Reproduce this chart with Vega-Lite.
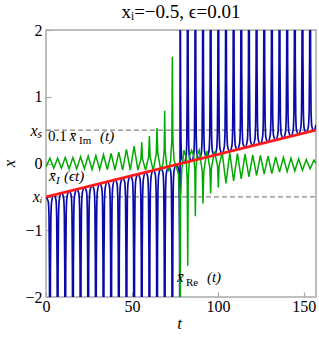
{
"$schema":"https://vega.github.io/schema/vega-lite/v6.json",
"width":270,"height":267,
"autosize":{"type":"none"},
"padding":{"left":46,"top":30,"right":3,"bottom":46},
"title":{"text":"xᵢ=−0.5, ϵ=0.01","font":"Liberation Serif, Times New Roman, serif","fontSize":19,"fontWeight":"normal","color":"black","offset":2,"dy":17,"baseline":"alphabetic"},
"config":{"view":{"stroke":"#aaaaaa","strokeWidth":1.5},
"axis":{"grid":false,"domain":false,"tickColor":"#aaaaaa","tickWidth":1.2,"tickSize":-5,"labelFont":"Liberation Serif, Times New Roman, serif","labelFontSize":16,"labelColor":"black","labelOverlap":false,"titleFont":"Liberation Serif, Times New Roman, serif","titleFontStyle":"italic","titleFontWeight":"normal","titleFontSize":17,"titleColor":"black"}},
"datasets":{
"dash":[{"t":0,"y":0.5,"g":"s"},{"t":157.08,"y":0.5,"g":"s"},{"t":0,"y":-0.5,"g":"i"},{"t":157.08,"y":-0.5,"g":"i"}],
"red":[{"t":0,"y":-0.5},{"t":157.08,"y":0.5}],
"blue":[
{"t":0,"y":-0.5},
{"t":1.32,"y":-0.57},{"t":1.77,"y":-0.82},{"t":2.03,"y":-1.64},{"t":2.3,"y":-5},{"t":2.57,"y":-1.64},{"t":2.83,"y":-0.82},{"t":3.28,"y":-0.57},
{"t":4.53,"y":-0.47},
{"t":5.77,"y":-0.54},{"t":6.22,"y":-0.79},{"t":6.48,"y":-1.61},{"t":6.75,"y":-5},{"t":7.02,"y":-1.61},{"t":7.28,"y":-0.79},{"t":7.73,"y":-0.54},
{"t":8.98,"y":-0.44},
{"t":10.22,"y":-0.51},{"t":10.67,"y":-0.76},{"t":10.93,"y":-1.58},{"t":11.2,"y":-5},{"t":11.47,"y":-1.58},{"t":11.73,"y":-0.76},{"t":12.18,"y":-0.51},
{"t":13.43,"y":-0.41},
{"t":14.67,"y":-0.48},{"t":15.12,"y":-0.73},{"t":15.38,"y":-1.55},{"t":15.65,"y":-5},{"t":15.92,"y":-1.55},{"t":16.18,"y":-0.73},{"t":16.63,"y":-0.48},
{"t":17.88,"y":-0.39},
{"t":19.12,"y":-0.45},{"t":19.57,"y":-0.70},{"t":19.83,"y":-1.52},{"t":20.1,"y":-5},{"t":20.37,"y":-1.52},{"t":20.63,"y":-0.70},{"t":21.08,"y":-0.45},
{"t":22.33,"y":-0.36},
{"t":23.57,"y":-0.42},{"t":24.02,"y":-0.67},{"t":24.28,"y":-1.49},{"t":24.55,"y":-5},{"t":24.82,"y":-1.49},{"t":25.08,"y":-0.67},{"t":25.53,"y":-0.42},
{"t":26.78,"y":-0.33},
{"t":28.02,"y":-0.40},{"t":28.47,"y":-0.65},{"t":28.73,"y":-1.47},{"t":29.0,"y":-5},{"t":29.27,"y":-1.47},{"t":29.53,"y":-0.65},{"t":29.98,"y":-0.40},
{"t":31.23,"y":-0.30},
{"t":32.47,"y":-0.37},{"t":32.92,"y":-0.62},{"t":33.18,"y":-1.44},{"t":33.45,"y":-5},{"t":33.72,"y":-1.44},{"t":33.98,"y":-0.62},{"t":34.43,"y":-0.37},
{"t":35.68,"y":-0.27},
{"t":36.92,"y":-0.34},{"t":37.37,"y":-0.59},{"t":37.63,"y":-1.41},{"t":37.9,"y":-5},{"t":38.17,"y":-1.41},{"t":38.43,"y":-0.59},{"t":38.88,"y":-0.34},
{"t":40.13,"y":-0.24},
{"t":41.37,"y":-0.31},{"t":41.82,"y":-0.56},{"t":42.08,"y":-1.38},{"t":42.35,"y":-5},{"t":42.62,"y":-1.38},{"t":42.88,"y":-0.56},{"t":43.33,"y":-0.31},
{"t":44.58,"y":-0.22},
{"t":45.82,"y":-0.28},{"t":46.27,"y":-0.53},{"t":46.53,"y":-1.35},{"t":46.8,"y":-5},{"t":47.07,"y":-1.35},{"t":47.33,"y":-0.53},{"t":47.78,"y":-0.28},
{"t":49.03,"y":-0.19},
{"t":50.27,"y":-0.25},{"t":50.72,"y":-0.50},{"t":50.98,"y":-1.32},{"t":51.25,"y":-5},{"t":51.52,"y":-1.32},{"t":51.78,"y":-0.50},{"t":52.23,"y":-0.25},
{"t":53.48,"y":-0.16},
{"t":54.72,"y":-0.23},{"t":55.17,"y":-0.48},{"t":55.43,"y":-1.30},{"t":55.7,"y":-5},{"t":55.97,"y":-1.30},{"t":56.23,"y":-0.48},{"t":56.68,"y":-0.23},
{"t":57.93,"y":-0.13},
{"t":59.17,"y":-0.20},{"t":59.62,"y":-0.45},{"t":59.88,"y":-1.27},{"t":60.15,"y":-5},{"t":60.42,"y":-1.27},{"t":60.68,"y":-0.45},{"t":61.13,"y":-0.20},
{"t":62.38,"y":-0.10},
{"t":63.62,"y":-0.17},{"t":64.07,"y":-0.42},{"t":64.33,"y":-1.24},{"t":64.6,"y":-5},{"t":64.87,"y":-1.24},{"t":65.13,"y":-0.42},{"t":65.58,"y":-0.17},
{"t":66.83,"y":-0.07},
{"t":68.07,"y":-0.14},{"t":68.52,"y":-0.39},{"t":68.78,"y":-1.21},{"t":69.05,"y":-5},{"t":69.32,"y":-1.21},{"t":69.58,"y":-0.39},{"t":70.03,"y":-0.14},
{"t":71.28,"y":-0.05},
{"t":72.52,"y":-0.11},{"t":72.97,"y":-0.36},{"t":73.23,"y":-1.18},{"t":73.5,"y":-5},{"t":73.77,"y":-1.18},{"t":74.03,"y":-0.36},{"t":74.48,"y":-0.11},
{"t":75.75,"y":-0.02},
{"t":77.02,"y":-0.08},{"t":77.47,"y":-0.33},{"t":77.73,"y":-1.15},{"t":77.99,"y":-5},{"t":78.01,"y":5},{"t":78.27,"y":1.15},{"t":78.53,"y":0.33},{"t":78.98,"y":0.08},
{"t":80.23,"y":0.01},
{"t":81.47,"y":0.10},{"t":81.92,"y":0.35},{"t":82.18,"y":1.17},{"t":82.45,"y":5},{"t":82.72,"y":1.17},{"t":82.98,"y":0.35},{"t":83.43,"y":0.10},
{"t":84.68,"y":0.04},
{"t":85.92,"y":0.13},{"t":86.37,"y":0.38},{"t":86.63,"y":1.20},{"t":86.9,"y":5},{"t":87.17,"y":1.20},{"t":87.43,"y":0.38},{"t":87.88,"y":0.13},
{"t":89.13,"y":0.07},
{"t":90.37,"y":0.16},{"t":90.82,"y":0.41},{"t":91.08,"y":1.23},{"t":91.35,"y":5},{"t":91.62,"y":1.23},{"t":91.88,"y":0.41},{"t":92.33,"y":0.16},
{"t":93.58,"y":0.10},
{"t":94.82,"y":0.19},{"t":95.27,"y":0.44},{"t":95.53,"y":1.26},{"t":95.8,"y":5},{"t":96.07,"y":1.26},{"t":96.33,"y":0.44},{"t":96.78,"y":0.19},
{"t":98.03,"y":0.12},
{"t":99.27,"y":0.22},{"t":99.72,"y":0.47},{"t":99.98,"y":1.29},{"t":100.25,"y":5},{"t":100.52,"y":1.29},{"t":100.78,"y":0.47},{"t":101.23,"y":0.22},
{"t":102.48,"y":0.15},
{"t":103.72,"y":0.25},{"t":104.17,"y":0.50},{"t":104.43,"y":1.32},{"t":104.7,"y":5},{"t":104.97,"y":1.32},{"t":105.23,"y":0.50},{"t":105.68,"y":0.25},
{"t":106.93,"y":0.18},
{"t":108.17,"y":0.27},{"t":108.62,"y":0.52},{"t":108.88,"y":1.34},{"t":109.15,"y":5},{"t":109.42,"y":1.34},{"t":109.68,"y":0.52},{"t":110.13,"y":0.27},
{"t":111.38,"y":0.21},
{"t":112.62,"y":0.30},{"t":113.07,"y":0.55},{"t":113.33,"y":1.37},{"t":113.6,"y":5},{"t":113.87,"y":1.37},{"t":114.13,"y":0.55},{"t":114.58,"y":0.30},
{"t":115.83,"y":0.24},
{"t":117.07,"y":0.33},{"t":117.52,"y":0.58},{"t":117.78,"y":1.40},{"t":118.05,"y":5},{"t":118.32,"y":1.40},{"t":118.58,"y":0.58},{"t":119.03,"y":0.33},
{"t":120.28,"y":0.27},
{"t":121.52,"y":0.36},{"t":121.97,"y":0.61},{"t":122.23,"y":1.43},{"t":122.5,"y":5},{"t":122.77,"y":1.43},{"t":123.03,"y":0.61},{"t":123.48,"y":0.36},
{"t":124.73,"y":0.29},
{"t":125.97,"y":0.39},{"t":126.42,"y":0.64},{"t":126.68,"y":1.46},{"t":126.95,"y":5},{"t":127.22,"y":1.46},{"t":127.48,"y":0.64},{"t":127.93,"y":0.39},
{"t":129.18,"y":0.32},
{"t":130.42,"y":0.42},{"t":130.87,"y":0.67},{"t":131.13,"y":1.49},{"t":131.4,"y":5},{"t":131.67,"y":1.49},{"t":131.93,"y":0.67},{"t":132.38,"y":0.42},
{"t":133.63,"y":0.35},
{"t":134.87,"y":0.44},{"t":135.32,"y":0.69},{"t":135.58,"y":1.51},{"t":135.85,"y":5},{"t":136.12,"y":1.51},{"t":136.38,"y":0.69},{"t":136.83,"y":0.44},
{"t":138.08,"y":0.38},
{"t":139.32,"y":0.47},{"t":139.77,"y":0.72},{"t":140.03,"y":1.54},{"t":140.3,"y":5},{"t":140.57,"y":1.54},{"t":140.83,"y":0.72},{"t":141.28,"y":0.47},
{"t":142.53,"y":0.41},
{"t":143.77,"y":0.50},{"t":144.22,"y":0.75},{"t":144.48,"y":1.57},{"t":144.75,"y":5},{"t":145.02,"y":1.57},{"t":145.28,"y":0.75},{"t":145.73,"y":0.50},
{"t":146.98,"y":0.44},
{"t":148.22,"y":0.53},{"t":148.67,"y":0.78},{"t":148.93,"y":1.60},{"t":149.2,"y":5},{"t":149.47,"y":1.60},{"t":149.73,"y":0.78},{"t":150.18,"y":0.53},
{"t":151.43,"y":0.46},
{"t":152.67,"y":0.56},{"t":153.12,"y":0.81},{"t":153.38,"y":1.63},{"t":153.65,"y":5},{"t":153.92,"y":1.63},{"t":154.18,"y":0.81},{"t":154.63,"y":0.56},
{"t":155.88,"y":0.49},
{"t":157.08,"y":0.58}
],
"green":[
{"t":0,"y":-0.05},{"t":2.3,"y":0.08},{"t":4.53,"y":-0.07},{"t":6.75,"y":0.08},{"t":8.98,"y":-0.07},{"t":11.2,"y":0.09},{"t":13.43,"y":-0.08},{"t":15.65,"y":0.09},{"t":17.88,"y":-0.08},{"t":20.1,"y":0.10},{"t":22.33,"y":-0.08},{"t":24.55,"y":0.11},{"t":26.78,"y":-0.09},{"t":29.0,"y":0.12},{"t":31.23,"y":-0.09},{"t":33.45,"y":0.13},{"t":35.68,"y":-0.09},{"t":37.9,"y":0.15},{"t":40.13,"y":-0.1},{"t":42.35,"y":0.17},{"t":44.58,"y":-0.1},{"t":46.8,"y":0.21},{"t":49.03,"y":-0.1},{"t":51.25,"y":0.26},{"t":53.48,"y":-0.1},
{"t":55.25,"y":0.07},{"t":55.7,"y":0.32},{"t":56.15,"y":0.07},{"t":57.93,"y":-0.1},
{"t":59.7,"y":0.10},{"t":60.15,"y":0.41},{"t":60.6,"y":0.10},{"t":62.38,"y":-0.11},
{"t":64.15,"y":0.15},{"t":64.6,"y":0.53},{"t":65.05,"y":0.15},{"t":66.83,"y":-0.11},
{"t":68.05,"y":0.0},{"t":68.75,"y":0.2},{"t":69.05,"y":0.79},{"t":69.35,"y":0.2},{"t":70.05,"y":0.0},{"t":71.28,"y":-0.12},
{"t":72.5,"y":0.05},{"t":73.2,"y":0.35},{"t":73.5,"y":1.6},{"t":73.8,"y":0.35},{"t":74.5,"y":0.05},{"t":75.75,"y":-0.05},
{"t":77.0,"y":-0.15},{"t":77.7,"y":-0.5},{"t":78.0,"y":-3},{"t":78.3,"y":-0.5},{"t":79.0,"y":-0.1},{"t":80.23,"y":0.2},
{"t":81.45,"y":0.1},{"t":82.15,"y":-0.25},{"t":82.45,"y":-1.53},{"t":82.75,"y":-0.25},{"t":83.45,"y":0.1},{"t":84.68,"y":0.2},
{"t":85.9,"y":0.12},{"t":86.6,"y":-0.1},{"t":86.9,"y":-0.79},{"t":87.2,"y":-0.1},{"t":87.9,"y":0.12},{"t":89.13,"y":0.2},
{"t":90.9,"y":-0.12},{"t":91.35,"y":-0.6},{"t":91.8,"y":-0.12},{"t":93.58,"y":0.19},
{"t":95.35,"y":-0.07},{"t":95.8,"y":-0.45},{"t":96.25,"y":-0.07},{"t":98.03,"y":0.18},
{"t":99.8,"y":-0.04},{"t":100.25,"y":-0.36},{"t":100.7,"y":-0.04},{"t":102.48,"y":0.17},
{"t":104.7,"y":-0.3},{"t":106.93,"y":0.16},{"t":109.15,"y":-0.26},{"t":111.38,"y":0.15},{"t":113.6,"y":-0.23},{"t":115.83,"y":0.14},{"t":118.05,"y":-0.2},{"t":120.28,"y":0.13},{"t":122.5,"y":-0.18},{"t":124.73,"y":0.12},{"t":126.95,"y":-0.16},{"t":129.18,"y":0.11},{"t":131.4,"y":-0.15},{"t":133.63,"y":0.10},{"t":135.85,"y":-0.13},{"t":138.08,"y":0.09},{"t":140.3,"y":-0.12},{"t":142.53,"y":0.08},{"t":144.75,"y":-0.11},{"t":146.98,"y":0.07},{"t":149.2,"y":-0.1},{"t":151.43,"y":0.06},{"t":153.65,"y":-0.08},{"t":155.88,"y":0.05},{"t":157.08,"y":0.0}
],
"txtUp":[{"t":1.16,"y":0.337,"s":"0.1"}],
"txtIt":[{"t":13.6,"y":0.337,"s":"x̄"},{"t":31.4,"y":0.337,"s":"(t)"},{"t":1.74,"y":-0.262,"s":"x̄"},{"t":10.5,"y":-0.262,"s":"(ϵt)"},{"t":76.2,"y":-1.774,"s":"x̄"},{"t":93.6,"y":-1.774,"s":"(t)"}],
"subUp":[{"t":19.2,"y":0.29,"s":"Im"},{"t":81.4,"y":-1.83,"s":"Re"}],
"subIt":[{"t":5.8,"y":-0.307,"s":"I"}]
},
"encoding":{
"x":{"field":"t","type":"quantitative","scale":{"domain":[0,157.08],"nice":false,"zero":false},"axis":{"values":[0,50,100,150],"title":"t","labelPadding":6,"labelFlush":false,"titleX":133,"titleY":31,"titleAlign":"center","titleBaseline":"alphabetic"}},
"y":{"field":"y","type":"quantitative","scale":{"domain":[-2,2],"nice":false,"zero":false},"axis":{"values":[-2,-1,-0.5,0,0.5,1,2],"title":"x","labelPadding":9,"labelExpr":"datum.value == 0.5 ? 'xₛ' : datum.value == -0.5 ? 'xᵢ' : datum.value < 0 ? '−' + abs(datum.value) : '' + datum.value","labelFontStyle":{"condition":{"test":"abs(datum.value) == 0.5","value":"italic"},"value":"normal"},"titleX":-32,"titleY":133,"titleAngle":-90,"titleAlign":"center","titleBaseline":"alphabetic"}}
},
"layer":[
{"data":{"name":"dash"},"mark":{"type":"line","color":"#888888","strokeDash":[5,3],"strokeWidth":1.3},"encoding":{"detail":{"field":"g"}}},
{"data":{"name":"blue"},"mark":{"type":"line","color":"#0a0aa8","strokeWidth":1.7,"interpolate":"monotone","clip":true}},
{"data":{"name":"green"},"mark":{"type":"line","color":"#00aa00","strokeWidth":1.5,"clip":true}},
{"data":{"name":"red"},"mark":{"type":"line","color":"#ff1a1a","strokeWidth":2.6,"clip":true}},
{"data":{"name":"txtUp"},"mark":{"type":"text","align":"left","baseline":"alphabetic","font":"Liberation Serif, Times New Roman, serif","fontSize":15,"color":"black"},"encoding":{"text":{"field":"s"}}},
{"data":{"name":"txtIt"},"mark":{"type":"text","align":"left","baseline":"alphabetic","font":"Liberation Serif, Times New Roman, serif","fontSize":15,"fontStyle":"italic","color":"black"},"encoding":{"text":{"field":"s"}}},
{"data":{"name":"subUp"},"mark":{"type":"text","align":"left","baseline":"alphabetic","font":"Liberation Serif, Times New Roman, serif","fontSize":11,"color":"black"},"encoding":{"text":{"field":"s"}}},
{"data":{"name":"subIt"},"mark":{"type":"text","align":"left","baseline":"alphabetic","font":"Liberation Serif, Times New Roman, serif","fontSize":11,"fontStyle":"italic","color":"black"},"encoding":{"text":{"field":"s"}}}
]
}
